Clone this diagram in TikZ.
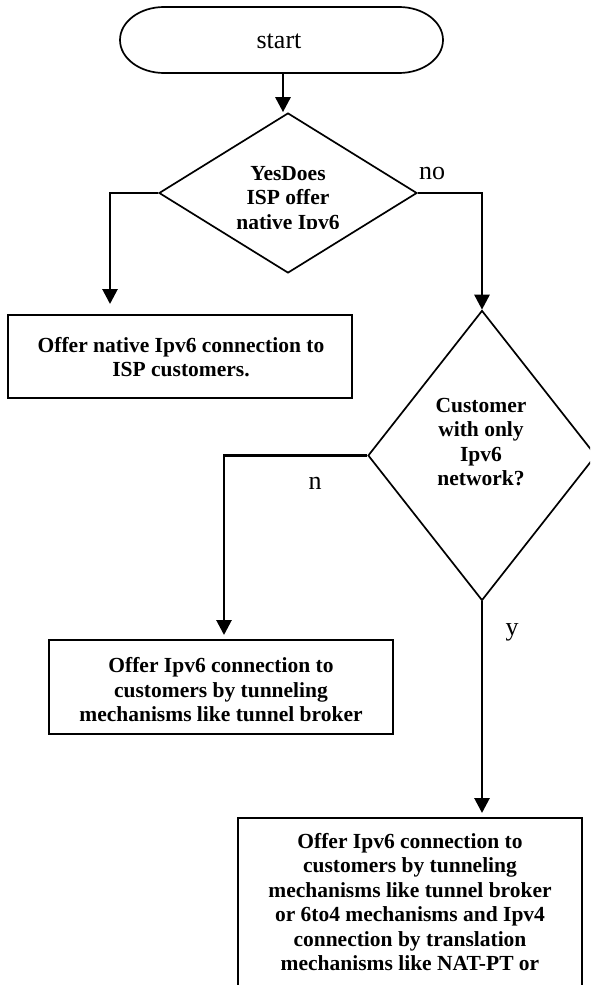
\documentclass[tikz,border=0pt]{standalone}
\usepackage{fontspec}
\setmainfont{Liberation Serif}
\usetikzlibrary{shapes.geometric,arrows.meta,calc}
\tikzset{
  outline/.style={draw=black,line width=1.7pt},
  conn/.style={draw=black,line width=2.8pt,-{Triangle[length=15pt,width=15pt]}},
  procbox/.style={outline,rectangle,inner sep=0pt},
  decision/.style={outline,diamond,inner sep=0pt},
  boldtext/.style={align=center,font=\fontsize{21.5}{24.5}\selectfont\bfseries,inner sep=0pt},
  plaintext/.style={font=\fontsize{26}{30}\selectfont,inner sep=0pt},
}
\begin{document}
\begin{tikzpicture}[x=1pt,y=1pt]
\useasboundingbox (0,0) rectangle (590,-985);
\clip (0,0) rectangle (590,-985);

% terminal
\draw[outline] (164,-7) -- (399,-7) arc (90:-90:44 and 33) -- (164,-73)
  arc (270:90:44 and 33) -- cycle;
\node[plaintext] (start) at (279,-41) {start};
\coordinate (s0) at (283,-73);

% first decision
\node[decision,minimum width=258pt,minimum height=160pt] (d1) at (288,-193) {};
\begin{scope}
  \clip (150,-150) rectangle (420,-228);
  \node[boldtext] (d1text) at (288,-200) {YesDoes\\ISP offer\\native Ipv6};
\end{scope}
\node[plaintext] (no) at (432,-173) {no};

% native offer box
\node[procbox,minimum width=344pt,minimum height=83pt] (box1) at (180,-356.5) {};
\node[boldtext] (box1text) at (181,-357) {Offer native Ipv6 connection to\\ISP customers.};
\coordinate (c1) at (110,-304);

% second decision
\node[decision,minimum width=228pt,minimum height=290pt] (d2) at (482,-455.5) {};
\node[boldtext] (d2text) at (481,-442) {Customer\\with only\\Ipv6\\network?};

% tunnelling box
\node[procbox,minimum width=344pt,minimum height=94pt] (box2) at (221,-687) {};
\node[boldtext] (box2text) at (221,-690) {Offer Ipv6 connection to\\customers by tunneling\\mechanisms like tunnel broker};
\coordinate (c2) at (224,-635);
\node[plaintext] (n) at (315,-483) {n};

% tunnelling and translation box (runs past the lower edge)
\node[procbox,minimum width=344pt,minimum height=200pt,anchor=north] (box3) at (410,-817) {};
\node[boldtext,anchor=north] (box3text) at ([yshift=-16pt]box3.north)
  {Offer Ipv6 connection to\\customers by tunneling\\mechanisms like tunnel broker\\or 6to4 mechanisms and Ipv4\\connection by translation\\mechanisms like NAT-PT or};
\coordinate (c3) at (482,-813);
\node[plaintext] (y) at (512,-632) {y};

% connectors
\draw[conn] (s0) -- (s0 |- d1.north);
\draw[conn] (d1.west) -| (c1);
\draw[conn] (d1.east) -| (d2.north);
\draw[conn] (d2.west) -| (c2);
\draw[conn] (d2.south) -- (c3);
\end{tikzpicture}
\end{document}
